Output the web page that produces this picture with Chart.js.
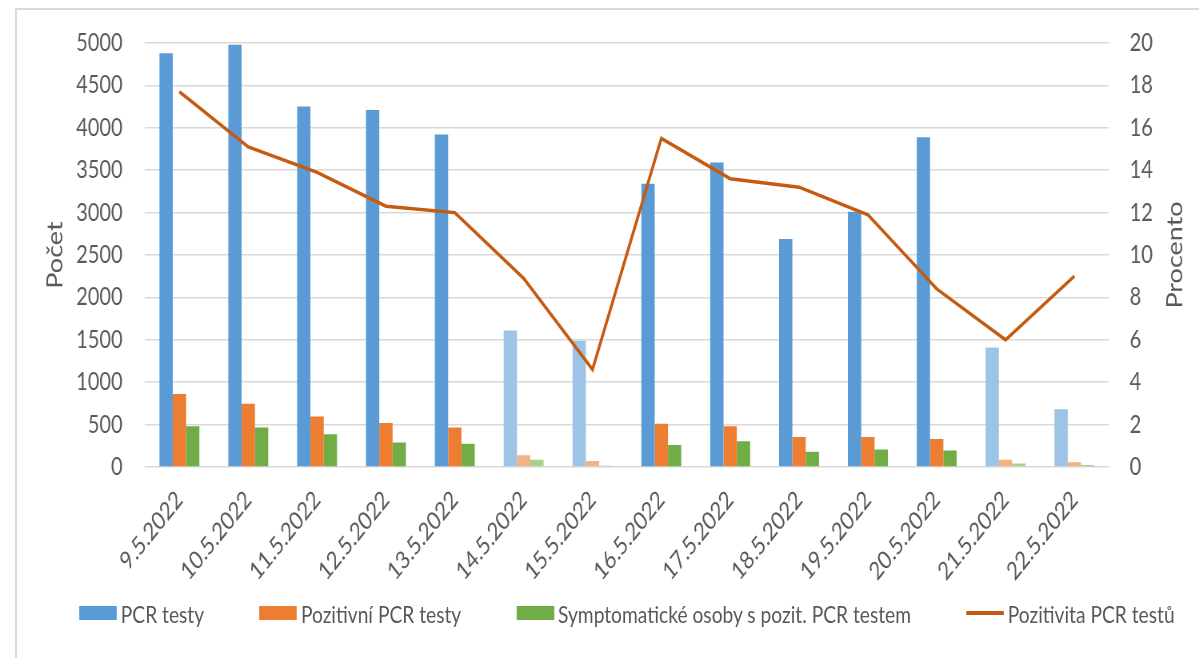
<!DOCTYPE html>
<html>
<head>
<meta charset="utf-8">
<script src="https://cdn.jsdelivr.net/npm/chart.js@4/dist/chart.umd.min.js"></script>
<style>
  html, body { margin: 0; padding: 0; background: #fff; overflow: hidden; }
  body { width: 1199px; height: 658px; position: relative; }
  .frame { position: absolute; left: 15px; top: 8px; width: 1300px; height: 800px; border: 2px solid #d9d9d9; }
  /* the reference is a horizontally squeezed Excel chart, so draw wide and squeeze */
  #wrap { position: absolute; left: 0; top: 0; width: 1499px; height: 658px; transform: scaleX(0.79987); transform-origin: 0 0; }
  #legend { position: absolute; top: 598px; height: 30px; display: flex; justify-content: center; align-items: center; gap: 69px;
            font-family: Lato, "Open Sans", sans-serif; font-size: 24px; color: #595959; white-space: nowrap; }
  .item { display: flex; align-items: center; }
  .item span.txt { margin-left: 5px; }
</style>
</head>
<body>
<div class="frame"></div>
<div id="wrap">
  <canvas id="myChart" width="1499" height="658"></canvas>
  <div id="legend"></div>
</div>
<script>
const dates = ['9.5.2022', '10.5.2022', '11.5.2022', '12.5.2022', '13.5.2022', '14.5.2022', '15.5.2022',
               '16.5.2022', '17.5.2022', '18.5.2022', '19.5.2022', '20.5.2022', '21.5.2022', '22.5.2022'];
const weekendDays = ['14.5.2022', '15.5.2022', '21.5.2022', '22.5.2022'];

const pcrTests = [4880, 4980, 4250, 4210, 3920, 1610, 1490, 3340, 3590, 2690, 3010, 3890, 1410, 680];
const positiveTests = [860, 745, 595, 520, 465, 140, 70, 510, 480, 355, 355, 330, 85, 55];
const symptomatic = [480, 465, 385, 290, 275, 85, 15, 260, 305, 180, 205, 195, 40, 25];
const positivity = [17.7, 15.1, 13.9, 12.3, 12.0, 8.9, 4.6, 15.5, 13.6, 13.2, 11.9, 8.4, 6.0, 9.0];

const leftTitle = 'Počet';
const rightTitle = 'Procento';

const textColor = '#595959';
const fontFamily = 'Lato, "Open Sans", sans-serif';

// weekend bars are drawn lighter
function shade(dark, light) {
    return dates.map(d => weekendDays.includes(d) ? light : dark);
}

const axisTitles = {
    id: 'axisTitles',
    afterDraw(chart) {
        const { ctx, chartArea } = chart;
        const midY = (chartArea.top + chartArea.bottom) / 2;
        ctx.save();
        ctx.font = '27px ' + fontFamily;
        ctx.fillStyle = textColor;
        ctx.textAlign = 'center';
        ctx.textBaseline = 'middle';
        [[69, leftTitle], [1469, rightTitle]].forEach(([x, text]) => {
            ctx.save();
            ctx.translate(x, midY);
            ctx.rotate(-Math.PI / 2);
            ctx.fillText(text, 0, 0);
            ctx.restore();
        });
        ctx.restore();
    }
};

const data = {
    labels: dates,
    datasets: [
        {
            label: 'PCR testy',
            data: pcrTests,
            backgroundColor: shade('#5B9BD5', '#9DC3E6'),
            legendColor: '#5B9BD5',
            order: 1
        },
        {
            label: 'Pozitivní PCR testy',
            data: positiveTests,
            backgroundColor: shade('#ED7D31', '#F4B183'),
            legendColor: '#ED7D31',
            order: 1
        },
        {
            label: 'Symptomatické osoby s pozit. PCR testem',
            data: symptomatic,
            backgroundColor: shade('#70AD47', '#A9D18E'),
            legendColor: '#70AD47',
            order: 1
        },
        {
            type: 'line',
            label: 'Pozitivita PCR testů',
            data: positivity,
            yAxisID: 'y1',
            borderColor: '#C55A11',
            backgroundColor: '#C55A11',
            legendColor: '#C55A11',
            borderWidth: 3.5,
            pointRadius: 0,
            tension: 0,
            order: 0
        }
    ]
};

const tickFont = { family: fontFamily, size: 25 };

const config = {
    type: 'bar',
    data: data,
    options: {
        responsive: false,
        animation: false,
        layout: { padding: { top: 39, left: 0, right: 0, bottom: 0 } },
        datasets: {
            bar: { categoryPercentage: 0.58, barPercentage: 1.0 }
        },
        plugins: {
            legend: { display: false },
            tooltip: { enabled: false }
        },
        scales: {
            x: {
                grid: { display: false },
                border: { display: false },
                ticks: { color: textColor, font: tickFont, minRotation: 45, maxRotation: 45, padding: 10 },
                afterFit: scale => { scale.height = 191; }
            },
            y: {
                position: 'left',
                min: 0,
                max: 5000,
                ticks: { stepSize: 500, color: textColor, font: tickFont, padding: 28, callback: v => String(v) },
                grid: { color: '#d9d9d9', lineWidth: 1.5, drawTicks: false },
                border: { display: false },
                afterFit: scale => { scale.width = 181.25; }
            },
            y1: {
                position: 'right',
                min: 0,
                max: 20,
                ticks: { stepSize: 2, color: textColor, font: tickFont, padding: 26, callback: v => String(v) },
                grid: { drawOnChartArea: false, drawTicks: false },
                border: { display: false },
                afterFit: scale => { scale.width = 112.75; }
            }
        }
    },
    plugins: [axisTitles]
};

const myChart = new Chart(document.getElementById('myChart'), config);

// html legend, centred over the plot area like the original
function buildLegend(chart) {
    const legend = document.getElementById('legend');
    legend.style.left = chart.chartArea.left + 'px';
    legend.style.width = (chart.chartArea.right - chart.chartArea.left) + 'px';
    chart.data.datasets.forEach(ds => {
        const item = document.createElement('div');
        item.className = 'item';
        const mark = document.createElement('span');
        mark.style.display = 'inline-block';
        mark.style.width = '47px';
        mark.style.height = ds.type === 'line' ? '4px' : '14px';
        mark.style.background = ds.legendColor;
        const txt = document.createElement('span');
        txt.className = 'txt';
        txt.textContent = ds.label;
        item.appendChild(mark);
        item.appendChild(txt);
        legend.appendChild(item);
    });
}

buildLegend(myChart);
</script>
</body>
</html>
